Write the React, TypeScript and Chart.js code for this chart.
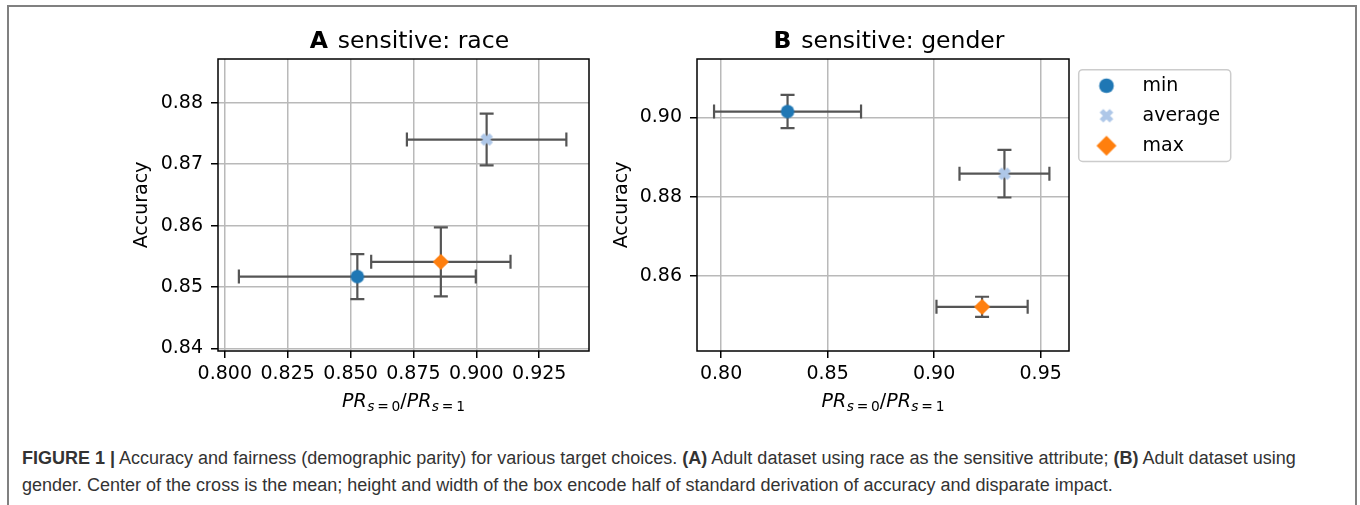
import React, { useEffect, useRef } from 'react';
import { Chart, registerables } from 'chart.js';

Chart.register(...registerables);

const FONT = 'DejaVu Sans';

// ---- series (shared) ----
const seriesNames = ['min', 'average', 'max'];
const seriesColors = ['#1f77b4', '#aec7e8', '#ff7f0e'];
const seriesShapes = ['circle', 'x', 'diamond'];

// ---- panel A: sensitive = race ----
const raceFairness = [0.8527, 0.9041, 0.8859];
const raceFairnessErr = [0.0471, 0.0317, 0.0277];
const raceAccuracy = [0.8517, 0.874, 0.8541];
const raceAccuracyErr = [0.00365, 0.0042, 0.0056];
const raceXTicks = [0.8, 0.825, 0.85, 0.875, 0.9, 0.925];
const raceXTickLabels = ['0.800', '0.825', '0.850', '0.875', '0.900', '0.925'];
const raceYTicks = [0.84, 0.85, 0.86, 0.87, 0.88];
const raceYTickLabels = ['0.84', '0.85', '0.86', '0.87', '0.88'];
const raceXRange = [0.7973, 0.9448];
const raceYRange = [0.8396, 0.8871];

// ---- panel B: sensitive = gender ----
const genderFairness = [0.8312, 0.933, 0.9225];
const genderFairnessErr = [0.0345, 0.0211, 0.0214];
const genderAccuracy = [0.9015, 0.8858, 0.8522];
const genderAccuracyErr = [0.0042, 0.006, 0.00255];
const genderXTicks = [0.8, 0.85, 0.9, 0.95];
const genderXTickLabels = ['0.80', '0.85', '0.90', '0.95'];
const genderYTicks = [0.86, 0.88, 0.9];
const genderYTickLabels = ['0.86', '0.88', '0.90'];
const genderXRange = [0.7887, 0.9633];
const genderYRange = [0.84105, 0.91476];

// ---- texts ----
const panelLetters = ['A', 'B'];
const panelTitles = ['sensitive: race', 'sensitive: gender'];
const yAxisTitle = 'Accuracy';
const xAxisTitleParts = ['PR', 's', '=', '0', '/', 'PR', 's', '=', '1'];

function makeMarker(shape: string, color: string, size: number): HTMLCanvasElement {
  const c = document.createElement('canvas');
  const dim = 2 * Math.ceil(size) + 4;
  c.width = dim;
  c.height = dim;
  const g = c.getContext('2d')!;
  const m = dim / 2;
  g.fillStyle = color;
  g.strokeStyle = color;
  if (shape === 'circle') {
    g.beginPath();
    g.arc(m, m, size / 2, 0, Math.PI * 2);
    g.fill();
  } else if (shape === 'diamond') {
    const r = size * 0.6;
    g.beginPath();
    g.moveTo(m, m - r);
    g.lineTo(m + r, m);
    g.lineTo(m, m + r);
    g.lineTo(m - r, m);
    g.closePath();
    g.fill();
  } else {
    const a = size * 0.34;
    g.lineWidth = size * 0.36;
    g.lineCap = 'butt';
    g.beginPath();
    g.moveTo(m - a, m - a);
    g.lineTo(m + a, m + a);
    g.moveTo(m - a, m + a);
    g.lineTo(m + a, m - a);
    g.stroke();
  }
  return c;
}

const errorBarPlugin = {
  id: 'errorBars',
  beforeDatasetsDraw(chart: any) {
    const { ctx } = chart;
    const xs = chart.scales.x;
    const ys = chart.scales.y;
    const cap = 7;
    ctx.save();
    ctx.strokeStyle = '#555555';
    ctx.lineWidth = 2.2;
    chart.data.datasets.forEach((ds: any) => {
      const p = ds.data[0];
      const cx = xs.getPixelForValue(p.x);
      const cy = ys.getPixelForValue(p.y);
      const x0 = xs.getPixelForValue(p.x - ds.errorX);
      const x1 = xs.getPixelForValue(p.x + ds.errorX);
      const y0 = ys.getPixelForValue(p.y - ds.errorY);
      const y1 = ys.getPixelForValue(p.y + ds.errorY);
      ctx.beginPath();
      ctx.moveTo(x0, cy);
      ctx.lineTo(x1, cy);
      ctx.moveTo(cx, y0);
      ctx.lineTo(cx, y1);
      ctx.moveTo(x0, cy - cap);
      ctx.lineTo(x0, cy + cap);
      ctx.moveTo(x1, cy - cap);
      ctx.lineTo(x1, cy + cap);
      ctx.moveTo(cx - cap, y0);
      ctx.lineTo(cx + cap, y0);
      ctx.moveTo(cx - cap, y1);
      ctx.lineTo(cx + cap, y1);
      ctx.stroke();
    });
    ctx.restore();
  },
};

const framePlugin = {
  id: 'axesFrame',
  afterDatasetsDraw(chart: any) {
    const { ctx, chartArea: ca } = chart;
    ctx.save();
    ctx.strokeStyle = '#000';
    ctx.lineWidth = 1.5;
    ctx.strokeRect(ca.left, ca.top, ca.right - ca.left, ca.bottom - ca.top);
    ctx.restore();
  },
};

const panelTitlePlugin = {
  id: 'panelTitle',
  afterDraw(chart: any, _args: any, opts: any) {
    const { ctx, chartArea: ca } = chart;
    ctx.save();
    ctx.fillStyle = '#000';
    ctx.textAlign = 'left';
    ctx.textBaseline = 'alphabetic';
    ctx.font = `bold 23.5px "${FONT}"`;
    const wl = ctx.measureText(opts.letter).width;
    ctx.font = `23.5px "${FONT}"`;
    const wt = ctx.measureText(opts.text).width;
    const gap = 9.8;
    const total = wl + gap + wt;
    const start = (ca.left + ca.right) / 2 + 6 - total / 2;
    ctx.font = `bold 23.5px "${FONT}"`;
    ctx.fillText(opts.letter, start, 48);
    ctx.font = `23.5px "${FONT}"`;
    ctx.fillText(opts.text, start + wl + gap, 48);
    ctx.restore();
  },
};

const xTitlePlugin = {
  id: 'xTitle',
  afterDraw(chart: any) {
    const { ctx, chartArea: ca } = chart;
    const big = `19px "${FONT}"`;
    const bigI = `italic 19px "${FONT}"`;
    const small = `13.8px "${FONT}"`;
    const smallI = `italic 13.8px "${FONT}"`;
    const p = xAxisTitleParts;
    const segs = [
      { t: p[0], f: bigI, dy: 0, pl: 0, pr: 0.5 },
      { t: p[1], f: smallI, dy: 4.5, pl: 0, pr: 0 },
      { t: p[2], f: small, dy: 4.5, pl: 2.8, pr: 2.8 },
      { t: p[3], f: small, dy: 4.5, pl: 0, pr: 0 },
      { t: p[4], f: big, dy: 0, pl: 0, pr: 0 },
      { t: p[5], f: bigI, dy: 0, pl: 0, pr: 0.5 },
      { t: p[6], f: smallI, dy: 4.5, pl: 0, pr: 0 },
      { t: p[7], f: small, dy: 4.5, pl: 2.8, pr: 2.8 },
      { t: p[8], f: small, dy: 4.5, pl: 0, pr: 0 },
    ];
    ctx.save();
    ctx.fillStyle = '#000';
    ctx.textAlign = 'left';
    ctx.textBaseline = 'alphabetic';
    let total = 0;
    const widths = segs.map((s) => {
      ctx.font = s.f;
      const w = ctx.measureText(s.t).width + s.pl + s.pr;
      total += w;
      return w;
    });
    let x = (ca.left + ca.right) / 2 - total / 2;
    const base = ca.bottom + 55.7;
    segs.forEach((s, i) => {
      ctx.font = s.f;
      ctx.fillText(s.t, x + s.pl, base + s.dy);
      x += widths[i];
    });
    ctx.restore();
  },
};

const legendFramePlugin = {
  id: 'legendFrame',
  beforeDraw(chart: any) {
    const { ctx, chartArea: ca } = chart;
    const l = ca.right + 9.7;
    const t = ca.top + 10.7;
    const w = 152;
    const h = 91.7;
    const r = 4;
    ctx.save();
    ctx.strokeStyle = '#cccccc';
    ctx.lineWidth = 1.5;
    ctx.fillStyle = 'rgba(255,255,255,0.8)';
    ctx.beginPath();
    ctx.moveTo(l + r, t);
    ctx.lineTo(l + w - r, t);
    ctx.arcTo(l + w, t, l + w, t + r, r);
    ctx.lineTo(l + w, t + h - r);
    ctx.arcTo(l + w, t + h, l + w - r, t + h, r);
    ctx.lineTo(l + r, t + h);
    ctx.arcTo(l, t + h, l, t + h - r, r);
    ctx.lineTo(l, t + r);
    ctx.arcTo(l, t, l + r, t, r);
    ctx.closePath();
    ctx.fill();
    ctx.stroke();
    ctx.restore();
  },
};

interface PanelSpec {
  fairness: number[];
  fairnessErr: number[];
  accuracy: number[];
  accuracyErr: number[];
  xTicks: number[];
  xLabels: string[];
  yTicks: number[];
  yLabels: string[];
  xRange: number[];
  yRange: number[];
  letter: string;
  title: string;
  yAxisWidth: number;
  yTitlePad: number;
  padRight: number;
  legend: boolean;
}

function makeConfig(p: PanelSpec, plotMarkers: HTMLCanvasElement[], legendMarkers: HTMLCanvasElement[]): any {
  const grid = {
    color: '#b9b9b9',
    lineWidth: 1.5,
    drawTicks: true,
    tickLength: 7,
    tickColor: '#000',
    tickWidth: 1.5,
  };
  const tickFont = { family: FONT, size: 19 };
  return {
    type: 'scatter',
    data: {
      datasets: seriesNames.map((name, i) => ({
        label: name,
        data: [{ x: p.fairness[i], y: p.accuracy[i] }],
        errorX: p.fairnessErr[i],
        errorY: p.accuracyErr[i],
        pointStyle: plotMarkers[i],
        pointRadius: 7,
        backgroundColor: seriesColors[i],
        borderColor: seriesColors[i],
      })),
    },
    options: {
      responsive: false,
      animation: false,
      events: [],
      layout: { padding: { top: 59, left: 0, right: p.padRight, bottom: 0 } },
      plugins: {
        tooltip: { enabled: false },
        panelTitle: { letter: p.letter, text: p.title },
        legend: p.legend
          ? {
              display: true,
              position: 'right',
              align: 'start',
              maxWidth: 150,
              title: { display: true, text: '', font: { size: 1, lineHeight: 1 }, padding: { top: 5.2, bottom: 0 } },
              labels: {
                usePointStyle: true,
                pointStyleWidth: 53,
                padding: 11,
                color: '#000',
                font: { family: FONT, size: 19 },
                generateLabels: () =>
                  seriesNames.map((n, i) => ({
                    text: n,
                    pointStyle: legendMarkers[i],
                    fillStyle: seriesColors[i],
                    strokeStyle: seriesColors[i],
                    lineWidth: 0,
                    hidden: false,
                    datasetIndex: i,
                    fontColor: '#000',
                  })),
              },
            }
          : { display: false },
      },
      scales: {
        x: {
          type: 'linear',
          bounds: 'data',
          min: p.xRange[0],
          max: p.xRange[1],
          afterBuildTicks: (s: any) => {
            s.ticks = p.xTicks.map((v) => ({ value: v }));
          },
          afterFit: (s: any) => {
            s.height = 69;
          },
          ticks: {
            callback: (_v: any, i: number) => p.xLabels[i],
            font: tickFont,
            color: '#000',
            padding: 5,
            maxRotation: 0,
            autoSkip: false,
          },
          grid,
          border: { display: false },
          title: { display: false },
        },
        y: {
          type: 'linear',
          bounds: 'data',
          min: p.yRange[0],
          max: p.yRange[1],
          afterBuildTicks: (s: any) => {
            s.ticks = p.yTicks.map((v) => ({ value: v }));
          },
          afterFit: (s: any) => {
            s.width = p.yAxisWidth;
          },
          ticks: {
            callback: (_v: any, i: number) => p.yLabels[i],
            font: tickFont,
            color: '#000',
            padding: 8,
            autoSkip: false,
          },
          grid,
          border: { display: false },
          title: {
            display: true,
            text: yAxisTitle,
            font: { family: FONT, size: 19 },
            color: '#000',
            padding: { top: p.yTitlePad, bottom: 0 },
          },
        },
      },
    },
    plugins: p.legend
      ? [errorBarPlugin, framePlugin, panelTitlePlugin, xTitlePlugin, legendFramePlugin]
      : [errorBarPlugin, framePlugin, panelTitlePlugin, xTitlePlugin],
  };
}

export default function App() {
  const refA = useRef<HTMLCanvasElement>(null);
  const refB = useRef<HTMLCanvasElement>(null);

  useEffect(() => {
    const plotMarkers = seriesShapes.map((s, i) => makeMarker(s, seriesColors[i], 13.5));
    const legendMarkers = seriesShapes.map((s, i) => makeMarker(s, seriesColors[i], i === 2 ? 16.7 : 14.7));
    const a = new Chart(
      refA.current!,
      makeConfig(
        {
          fairness: raceFairness,
          fairnessErr: raceFairnessErr,
          accuracy: raceAccuracy,
          accuracyErr: raceAccuracyErr,
          xTicks: raceXTicks,
          xLabels: raceXTickLabels,
          yTicks: raceYTicks,
          yLabels: raceYTickLabels,
          xRange: raceXRange,
          yRange: raceYRange,
          letter: panelLetters[0],
          title: panelTitles[0],
          yAxisWidth: 218,
          yTitlePad: 130.2,
          padRight: 31,
          legend: false,
        },
        plotMarkers,
        legendMarkers
      )
    );
    const b = new Chart(
      refB.current!,
      makeConfig(
        {
          fairness: genderFairness,
          fairnessErr: genderFairnessErr,
          accuracy: genderAccuracy,
          accuracyErr: genderAccuracyErr,
          xTicks: genderXTicks,
          xLabels: genderXTickLabels,
          yTicks: genderYTicks,
          yLabels: genderYTickLabels,
          xRange: genderXRange,
          yRange: genderYRange,
          letter: panelLetters[1],
          title: panelTitles[1],
          yAxisWidth: 117,
          yTitlePad: 30.6,
          padRight: 141,
          legend: true,
        },
        plotMarkers,
        legendMarkers
      )
    );
    return () => {
      a.destroy();
      b.destroy();
    };
  }, []);

  return (
    <div
      style={{
        position: 'fixed',
        left: 0,
        top: 0,
        width: 1360,
        height: 505,
        overflow: 'hidden',
        background: '#fff',
      }}
    >
      <div
        style={{
          position: 'absolute',
          left: 7,
          top: 5,
          width: 1350,
          height: 600,
          boxSizing: 'border-box',
          border: '2px solid #808080',
        }}
      />
      <canvas ref={refA} width={620} height={420} style={{ position: 'absolute', left: 0, top: 0 }} />
      <canvas ref={refB} width={780} height={420} style={{ position: 'absolute', left: 580, top: 0 }} />
      <div
        style={{
          position: 'absolute',
          left: 22,
          top: 445,
          whiteSpace: 'nowrap',
          fontFamily: '"Liberation Sans", Arial, sans-serif',
          fontSize: 18,
          lineHeight: '27px',
          color: '#333',
        }}
      >
        <b>FIGURE 1 |</b> Accuracy and fairness (demographic parity) for various target choices. <b>(A)</b> Adult
        dataset using race as the sensitive attribute; <b>(B)</b> Adult dataset using
        <br />
        gender. Center of the cross is the mean; height and width of the box encode half of standard derivation of
        accuracy and disparate impact.
      </div>
    </div>
  );
}
